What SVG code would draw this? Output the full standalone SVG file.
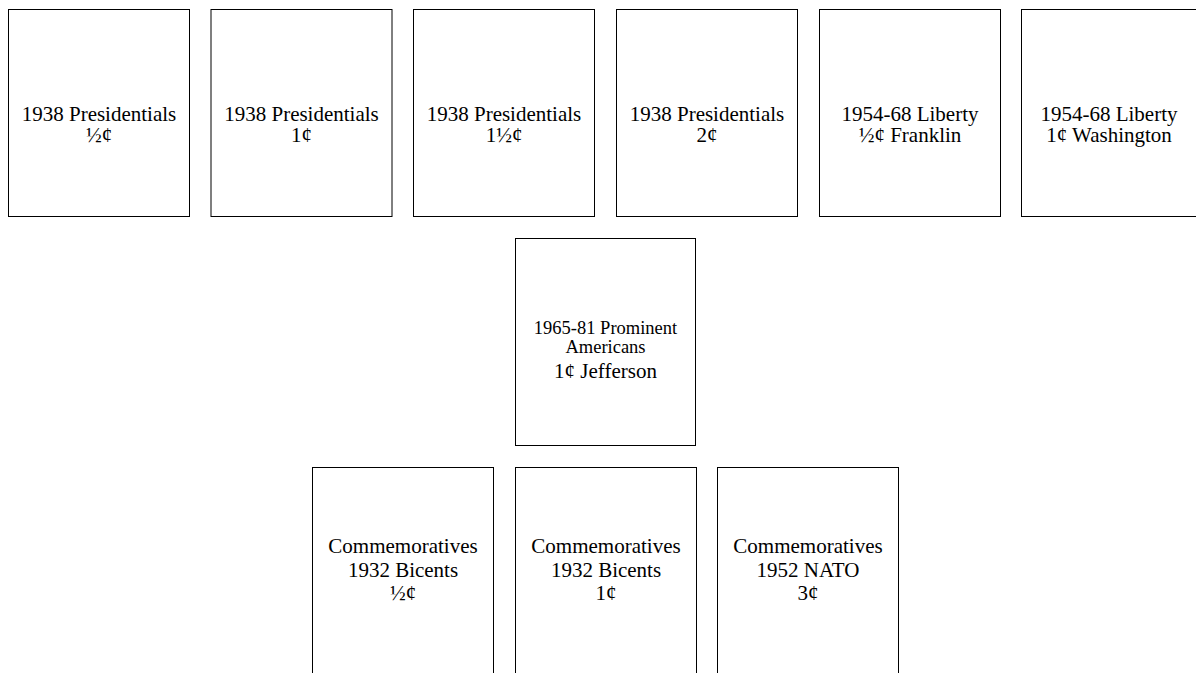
<svg xmlns="http://www.w3.org/2000/svg" width="1196" height="673" viewBox="0 0 1196 673">
<style>
rect.box{fill:#fff;stroke:#000;stroke-width:1}
text{font-family:"Liberation Serif","Times New Roman",serif;fill:#000;text-anchor:middle;font-size:21px}
.sm{font-size:18.5px}
</style>
<rect width="1196" height="673" fill="#fff"/>
<g id="connectors"></g>
<g id="n1"><rect class="box" x="8.5" y="9.5" width="181" height="207"/><text x="99" y="121">1938 Presidentials</text><text x="99" y="142">½¢</text></g>
<g id="n2"><rect class="box" x="211" y="9.5" width="181" height="207"/><text x="301.5" y="121">1938 Presidentials</text><text x="301.5" y="142">1¢</text></g>
<g id="n3"><rect class="box" x="413.5" y="9.5" width="181" height="207"/><text x="504" y="121">1938 Presidentials</text><text x="504" y="142">1½¢</text></g>
<g id="n4"><rect class="box" x="616.5" y="9.5" width="181" height="207"/><text x="707" y="121">1938 Presidentials</text><text x="707" y="142">2¢</text></g>
<g id="n5"><rect class="box" x="819.5" y="9.5" width="181" height="207"/><text x="910" y="121">1954-68 Liberty</text><text x="910" y="142">½¢ Franklin</text></g>
<g id="n6"><rect class="box" x="1021.5" y="9.5" width="181" height="207"/><text x="1109" y="121">1954-68 Liberty</text><text x="1109" y="142">1¢ Washington</text></g>
<g id="n7"><rect class="box" x="515.5" y="238.5" width="180" height="207"/><text class="sm" x="605.5" y="334">1965-81 Prominent</text><text class="sm" x="605.5" y="353">Americans</text><text x="605.5" y="378">1¢ Jefferson</text></g>
<g id="n8"><rect class="box" x="312.5" y="467.5" width="181" height="207"/><text x="403" y="553">Commemoratives</text><text x="403" y="577">1932 Bicents</text><text x="403" y="600">½¢</text></g>
<g id="n9"><rect class="box" x="515.5" y="467.5" width="181" height="207"/><text x="606" y="553">Commemoratives</text><text x="606" y="577">1932 Bicents</text><text x="606" y="600">1¢</text></g>
<g id="n10"><rect class="box" x="717.5" y="467.5" width="181" height="207"/><text x="808" y="553">Commemoratives</text><text x="808" y="577">1952 NATO</text><text x="808" y="600">3¢</text></g>
</svg>
